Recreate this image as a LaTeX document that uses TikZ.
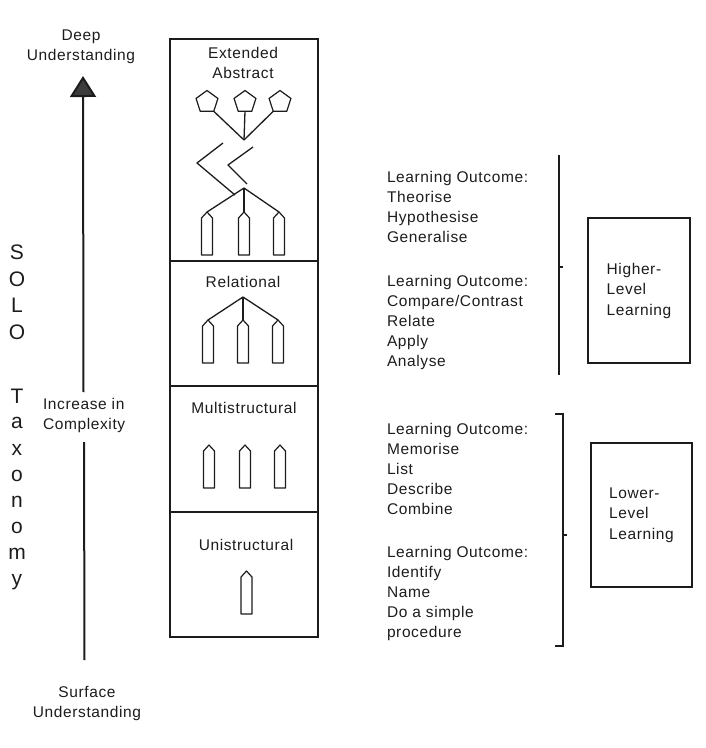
\documentclass[tikz,border=0pt]{standalone}
\usepackage{fontspec}
\setmainfont{Liberation Sans}[LetterSpace=4]
\usetikzlibrary{shapes.geometric,arrows.meta}
\definecolor{ink}{HTML}{1C1C1C}
\definecolor{headfill}{HTML}{3C3C3C}
\begin{document}
\begin{tikzpicture}[x=1pt,y=-1pt,
  every node/.style={inner sep=0pt, outer sep=0pt, text=ink},
  lbl/.style={font=\fontsize{15.5}{20}\selectfont},
  big/.style={font=\fontsize{21}{21}\selectfont, anchor=base},
  stage/.style={draw=ink, line width=1.6pt, minimum width=148pt, anchor=north west, rectangle},
  lvlbox/.style={draw=ink, line width=1.6pt, rectangle, align=left, font=\fontsize{15.5}{20.5}\selectfont},
  wire/.style={draw=ink, line width=1.3pt},
  glyph/.style={draw=ink, line width=1.2pt, line join=round},
  brk/.style={draw=ink, line width=1.4pt},
  axis/.style={draw=ink, line width=2pt},
  pent/.style={draw=ink, line width=1.2pt, regular polygon, regular polygon sides=5, minimum size=23pt},
  bul/.pic={
    \coordinate (-tip) at (0,0);
    \path[glyph] (-5.5,43) -- (-5.5,6) -- (0,0) -- (5.5,6) -- (5.5,43) -- cycle;
  }
]
\useasboundingbox (0,0) rectangle (706,748);

% stages column
\node[stage, minimum height=222pt] (ext) at (170,39) {};
\node[stage, minimum height=125pt] (rel) at (170,261) {};
\node[stage, minimum height=126pt] (mul) at (170,386) {};
\node[stage, minimum height=125pt] (uni) at (170,512) {};

\node[lbl, anchor=north, align=center] (extl) at (243,47.7) {Extended\\Abstract};
\node[lbl, anchor=base] (rell) at (243,287) {Relational};
\node[lbl, anchor=base] (mull) at (244,413) {Multistructural};
\node[lbl, anchor=base] (unil) at (246,550) {Unistructural};

% extended abstract glyph
\node[pent] (p1) at (207,102) {};
\node[pent] (p2) at (245,102) {};
\node[pent] (p3) at (280,102) {};
\coordinate (apexA) at (244,140);
\draw[wire] (p1.corner 4) -- (apexA);
\draw[wire] (p2.south) -- (apexA);
\draw[wire] (p3.corner 3) -- (apexA);
\coordinate (apexB) at (244,188);
\draw[wire, line join=round] (223,143) -- (197,163) -- (235,195);
\draw[wire, line join=round] (253,147) -- (228,165) -- (247,184);
\pic (e1) at (207,212) {bul};
\pic (e2) at (244,212) {bul};
\pic (e3) at (279,212) {bul};
\draw[wire] (apexB) -- (e1-tip);
\draw[wire] (apexB) -- (e2-tip);
\draw[wire] (apexB) -- (e3-tip);

% relational glyph
\coordinate (apexR) at (243,297);
\pic (r1) at (208,320) {bul};
\pic (r2) at (243,320) {bul};
\pic (r3) at (278,320) {bul};
\draw[wire] (apexR) -- (r1-tip);
\draw[wire] (apexR) -- (r2-tip);
\draw[wire] (apexR) -- (r3-tip);

% multistructural glyph
\pic (m1) at (209,445) {bul};
\pic (m2) at (245,445) {bul};
\pic (m3) at (280,445) {bul};

% unistructural glyph
\pic (u1) at (246.5,571) {bul};

% left axis
\node[lbl, anchor=north, align=center] (deep) at (81,29.9) {Deep\\Understanding};
\node[lbl, anchor=north, align=center] (surf) at (87,685.9) {Surface\\Understanding};
\node[lbl, anchor=north west, align=left] (incr) at (43,398.5) {Increase in\\Complexity};
\coordinate (atip) at (83,76);
\coordinate (agap1) at (83.5,392);
\coordinate (agap2) at (84,442);
\coordinate (abot) at (84.5,660);
\draw[axis, -{Triangle[width=26pt,length=21pt,fill=headfill]}] (agap1) -- (atip);
\draw[axis] (agap2) -- (abot);

% SOLO Taxonomy letters
\node[big] (s1) at (17,259) {S};
\node[big] (s2) at (17,286) {O};
\node[big] (s3) at (17,312) {L};
\node[big] (s4) at (17,339) {O};
\node[big] (t1) at (17,403) {T};
\node[big] (t2) at (17,428) {a};
\node[big] (t3) at (17,455) {x};
\node[big] (t4) at (17,481) {o};
\node[big] (t5) at (17,507) {n};
\node[big] (t6) at (17,533) {o};
\node[big] (t7) at (17,559) {m};
\node[big] (t8) at (17,585) {y};

% learning outcomes
\node[lbl, anchor=north west, align=left] (lo1) at (387,171.7) {Learning Outcome:\\Theorise\\Hypothesise\\Generalise};
\node[lbl, anchor=north west, align=left] (lo2) at (387,275.7) {Learning Outcome:\\Compare/Contrast\\Relate\\Apply\\Analyse};
\node[lbl, anchor=north west, align=left] (lo3) at (387,423.7) {Learning Outcome:\\Memorise\\List\\Describe\\Combine};
\node[lbl, anchor=north west, align=left] (lo4) at (387,546.7) {Learning Outcome:\\Identify\\Name\\Do a simple\\procedure};

% brackets
\coordinate (hbt) at (559,155);
\coordinate (hbb) at (559,375);
\coordinate (hbm) at (559,267);
\draw[brk] (hbt) -- (hbb);
\draw[brk] (hbm) -- ++(4,0);
\coordinate (lbt) at (555,414);
\coordinate (lbb) at (555,646);
\coordinate (lbm) at (563,535);
\draw[brk] (lbt) -- ++(8,0) |- (lbb);
\draw[brk] (lbm) -- ++(4,0);

% level boxes
\node[lvlbox, minimum width=102pt, minimum height=145pt] (hll) at (639,290.5) {Higher-\\Level\\Learning};
\node[lvlbox, minimum width=101pt, minimum height=144pt] (lll) at (641.5,515) {Lower-\\Level\\Learning};
\end{tikzpicture}
\end{document}
